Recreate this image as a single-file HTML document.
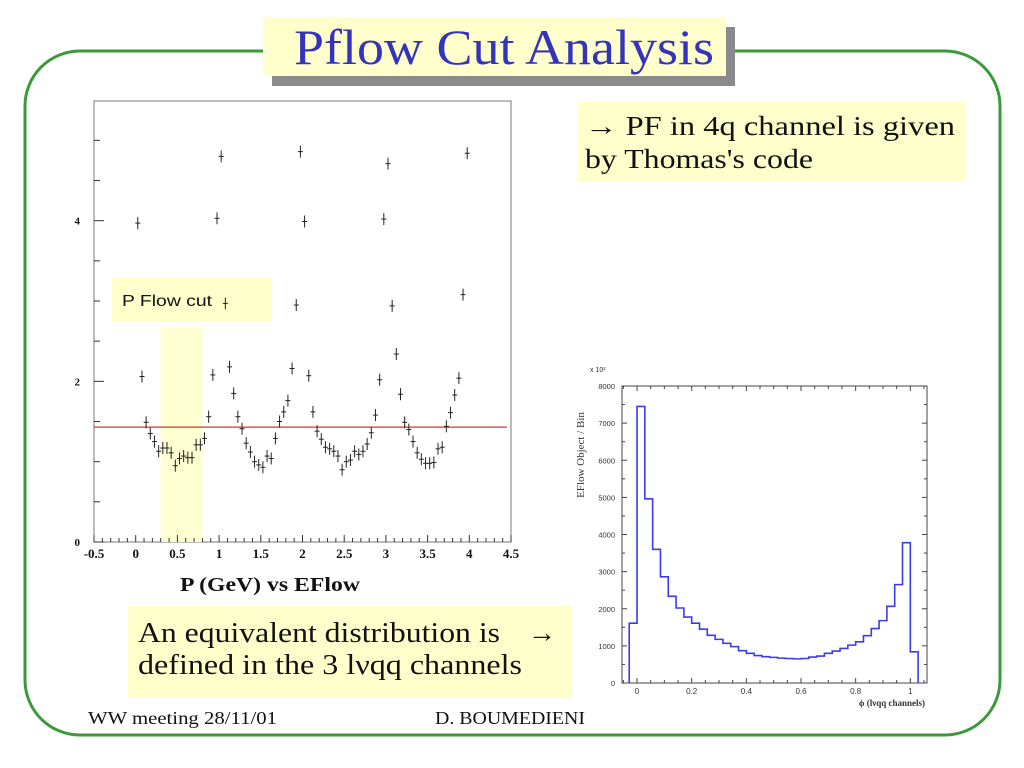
<!DOCTYPE html>
<html><head><meta charset="utf-8"><style>
html,body{margin:0;padding:0;background:#fff;}
svg{display:block;}
</style></head><body>
<svg id="s" width="1024" height="768" viewBox="0 0 1024 768" xmlns="http://www.w3.org/2000/svg" font-family="Liberation Serif, serif">
<rect x="25" y="51" width="975" height="684" rx="55" ry="55" fill="none" stroke="#3a9a3a" stroke-width="3"/>
<rect x="272" y="27" width="463" height="59" fill="#8a8a8a"/>
<rect x="263" y="17" width="463" height="59" fill="#ffffcc"/>
<text x="294" y="64" font-size="50" fill="#3333bb" textLength="420" lengthAdjust="spacingAndGlyphs">Pflow Cut Analysis</text>

<rect x="578" y="102" width="387" height="79" fill="#ffffcc"/>
<text x="585" y="135" font-size="27" fill="#111" textLength="370" lengthAdjust="spacingAndGlyphs">→ PF in 4q channel is given</text>
<text x="585" y="168" font-size="27" fill="#111" textLength="228" lengthAdjust="spacingAndGlyphs">by Thomas's code</text>

<rect x="128" y="606" width="444" height="92" fill="#ffffcc"/>
<text x="138" y="642" font-size="28" fill="#111" textLength="362" lengthAdjust="spacingAndGlyphs">An equivalent distribution is</text>
<text x="528" y="642" font-size="28" fill="#111">→</text>
<text x="138" y="674" font-size="28" fill="#111" textLength="384" lengthAdjust="spacingAndGlyphs">defined in the 3 lνqq channels</text>

<text x="88" y="724" font-size="18" fill="#111" textLength="189" lengthAdjust="spacingAndGlyphs">WW meeting 28/11/01</text>
<text x="435" y="724" font-size="18" fill="#111" textLength="150" lengthAdjust="spacingAndGlyphs">D. BOUMEDIENI</text>

<g id="left"></g>
<rect x="572" y="360" width="370" height="352" fill="#fff"/>
<g id="right"></g>
</svg>
<script>
// ---- Left chart data ----
const pX = [0.025,0.075,0.125,0.175,0.225,0.275,0.325,0.375,0.425,0.475,0.525,0.575,0.625,0.675,0.725,0.775,0.825,0.875,0.925,0.975,1.025,1.075,1.125,1.175,1.225,1.275,1.325,1.375,1.425,1.475,1.525,1.575,1.625,1.675,1.725,1.775,1.825,1.875,1.925,1.975,2.025,2.075,2.125,2.175,2.225,2.275,2.325,2.375,2.425,2.475,2.525,2.575,2.625,2.675,2.725,2.775,2.825,2.875,2.925,2.975,3.025,3.075,3.125,3.175,3.225,3.275,3.325,3.375,3.425,3.475,3.525,3.575,3.625,3.675,3.725,3.775,3.825,3.875,3.925,3.975];
const eflow = [3.97,2.06,1.49,1.35,1.25,1.13,1.17,1.17,1.11,0.95,1.04,1.07,1.05,1.05,1.21,1.21,1.29,1.56,2.08,4.03,4.80,2.97,2.18,1.85,1.56,1.41,1.23,1.12,1.00,0.96,0.93,1.07,1.04,1.29,1.50,1.62,1.76,2.16,2.95,4.86,3.99,2.07,1.62,1.38,1.28,1.18,1.16,1.13,1.07,0.90,1.00,1.02,1.13,1.09,1.13,1.22,1.36,1.58,2.02,4.02,4.71,2.94,2.34,1.84,1.49,1.40,1.25,1.11,1.03,0.98,0.98,0.99,1.16,1.18,1.44,1.61,1.83,2.04,3.08,4.84];
const xTickLabels = ["-0.5","0","0.5","1","1.5","2","2.5","3","3.5","4","4.5"];
const yTickLabels = ["0","2","4"];
const cutValue = [1.43];
const cutBand = [0.3, 0.8];

// ---- Right chart data ----
const binLow = [-0.02857];
const binWidth = [0.02857];
const counts = [1610,7450,4960,3600,2860,2335,2020,1775,1610,1450,1285,1175,1070,980,870,800,740,710,690,670,660,650,660,700,725,800,860,930,1020,1110,1275,1465,1680,2065,2650,3780,840];
const hxTicks = ["0","0.2","0.4","0.6","0.8","1"];
const hyTicks = ["0","1000","2000","3000","4000","5000","6000","7000","8000"];

const NS="http://www.w3.org/2000/svg";
function mk(parent,tag,attrs){const e=document.createElementNS(NS,tag);for(const k in attrs)e.setAttribute(k,attrs[k]);parent.appendChild(e);return e;}

// Left chart
const L=document.getElementById('left');
const lx0=94,lx1=511,ly0=101,ly1=542;
const X=v=>lx0+(v+0.5)/5*(lx1-lx0);
const Y=v=>ly1-v/5.49*(ly1-ly0);
let e;
e=mk(L,'rect',{x:lx0,y:ly0,width:lx1-lx0,height:ly1-ly0,fill:'#fff',stroke:'#777','stroke-width':1});


e=mk(L,'rect',{x:X(cutBand[0]),y:327,width:X(cutBand[1])-X(cutBand[0]),height:ly1-327,fill:'#ffffcc',opacity:0.9});


e=mk(L,'rect',{x:112,y:278,width:160,height:44,fill:'#ffffcc'});


e=mk(L,'text',{x:122,y:306,'font-size':16,fill:'#111','font-family':'Liberation Sans, sans-serif',textLength:90,lengthAdjust:'spacingAndGlyphs'});
e.textContent='P Flow cut';


for(let i=0;i<=50;i++){const v=-0.5+i*0.1;const big=i%5===0;
 e=mk(L,'line',{x1:X(v),x2:X(v),y1:ly1,y2:ly1-(big?7:4),stroke:'#333','stroke-width':1});
 
 }
xTickLabels.forEach((t,i)=>{e=mk(L,'text',{x:X(parseFloat(t)),y:558,'font-size':13,'font-weight':'bold','text-anchor':'middle',fill:'#111'});e.textContent=t;
 
 });
for(let i=0;i<=10;i++){const v=i*0.5;const big=i%4===0;
 e=mk(L,'line',{x1:lx0,x2:lx0+(big?10:6),y1:Y(v),y2:Y(v),stroke:'#333','stroke-width':1});
 
 }
yTickLabels.forEach(t=>{e=mk(L,'text',{x:80,y:Y(parseFloat(t))+4,'font-size':11,'font-weight':'bold','text-anchor':'end',fill:'#111'});e.textContent=t;
 
 });
e=mk(L,'line',{x1:lx0,x2:lx1-4,y1:Y(cutValue[0]),y2:Y(cutValue[0]),stroke:'#e03030','stroke-width':1.2});


pX.forEach((xv,i)=>{const cx=X(xv),cy=Y(eflow[i]);const g=mk(L,'g',{});
 
 
 mk(g,'line',{x1:cx,x2:cx,y1:cy-6,y2:cy+6,stroke:'#222','stroke-width':1});
 mk(g,'line',{x1:cx-2.5,x2:cx+2.5,y1:cy,y2:cy,stroke:'#222','stroke-width':1});});
e=mk(L,'text',{x:180,y:591,'font-size':20,'font-weight':'bold',fill:'#111',textLength:180,lengthAdjust:'spacingAndGlyphs'});
e.textContent='P (GeV) vs EFlow';



// Right chart
const R=document.getElementById('right');
const rx0=622,rx1=927,ry0=386,ry1=683;
const HX=v=>rx0+(v+0.055)/1.116*(rx1-rx0);
const HY=v=>ry1-v/8000*(ry1-ry0);
e=mk(R,'rect',{x:rx0,y:ry0,width:rx1-rx0,height:ry1-ry0,fill:'#fff',stroke:'#444','stroke-width':1});


for(let i=-1;i<=21;i++){const v=i*0.05;const big=(i+4)%4===0;
 e=mk(R,'line',{x1:HX(v),x2:HX(v),y1:ry1,y2:ry1-(big?5:3),stroke:'#444'});
 
 
 e=mk(R,'line',{x1:HX(v),x2:HX(v),y1:ry0,y2:ry0+(big?5:3),stroke:'#444'});
 
 }
hxTicks.forEach(t=>{e=mk(R,'text',{x:HX(parseFloat(t)),y:694,'font-size':8,'text-anchor':'middle',fill:'#333','font-family':'Liberation Sans, sans-serif'});e.textContent=t;
 
 });
for(let i=0;i<=16;i++){const v=i*500;const big=i%2===0;
 e=mk(R,'line',{x1:rx0,x2:rx0+(big?5:3),y1:HY(v),y2:HY(v),stroke:'#444'});
 
 
 e=mk(R,'line',{x1:rx1,x2:rx1-(big?5:3),y1:HY(v),y2:HY(v),stroke:'#444'});
 
 }
hyTicks.forEach(t=>{e=mk(R,'text',{x:615,y:HY(parseFloat(t))+3,'font-size':7.5,'text-anchor':'end',fill:'#333','font-family':'Liberation Sans, sans-serif'});e.textContent=t;
 
 });
let d='M'+HX(binLow[0])+','+HY(0);
counts.forEach((c,i)=>{const a=binLow[0]+i*binWidth[0],b=a+binWidth[0];d+=' L'+HX(a)+','+HY(c)+' L'+HX(b)+','+HY(c);});
d+=' L'+HX(binLow[0]+counts.length*binWidth[0])+','+HY(0);
e=mk(R,'path',{d:d,fill:'none',stroke:'#3b3bee','stroke-width':1.6});


e=mk(R,'text',{x:590,y:372,'font-size':7,fill:'#333','font-family':'Liberation Sans, sans-serif'});
e.textContent='x 10²';


e=mk(R,'text',{x:0,y:0,'font-size':11,fill:'#333','text-anchor':'middle',transform:'translate(584,455) rotate(-90)'});
e.textContent='EFlow Object / Bin';


e=mk(R,'text',{x:925,y:706,'font-size':9,'font-weight':'bold','text-anchor':'end',fill:'#333'});
e.textContent='ϕ (lνqq channels)';


</script>
</body></html>
